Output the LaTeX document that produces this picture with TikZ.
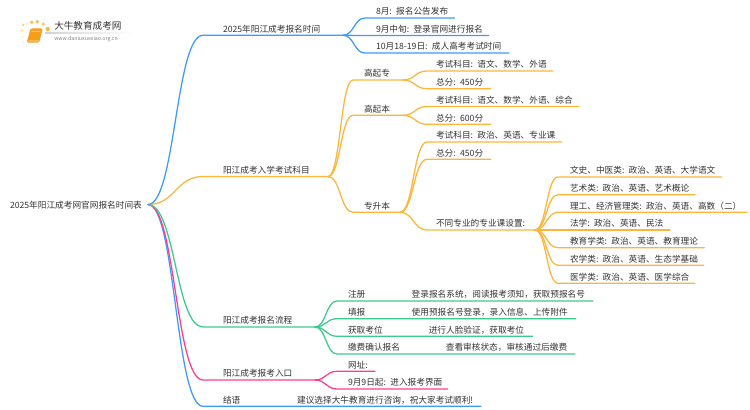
\documentclass[tikz,border=0pt]{standalone}
\usepackage{fontspec}
\usetikzlibrary{calc}
\setmainfont[WordSpace=0.6]{Noto Sans CJK SC}
\definecolor{cblue}{HTML}{3D9BFF}
\definecolor{corange}{HTML}{FDB53A}
\definecolor{cbook}{HTML}{F59E1E}
\definecolor{cgreen}{HTML}{3CCB8C}
\definecolor{cpink}{HTML}{FF3D8F}
\definecolor{ink}{HTML}{333333}
\newcommand{\topic}[7][]{% name, x0, xend, y, text offset, text
  \pgfmathsetmacro{\wid}{(#4-#3)*0.75}%
  \node[topicbox,text width=\wid pt,#1] (#2) at (#3,#5) {\hspace*{\dimexpr #6pt*3/4\relax}#7};}
\newcommand{\link}[3]{% colour, from, to
  \coordinate (m) at ($(#2.south east)!.5!(#3.south west)$);
  \draw[conn,#1] (#2.south east) .. controls (m |- #2.south east) and (m |- #3.south west) .. (#3.south west) -- (#3.south east);}
\tikzset{
  x=0.75pt,y=-0.75pt,
  topicbox/.style={anchor=south west,inner sep=0pt,outer sep=0pt,align=left,text height=6.2pt,text depth=2.4pt,font=\fontsize{6.5pt}{7pt}\selectfont,text=ink},
  conn/.style={line width=0.95pt,line cap=round,line join=round},
  rootbox/.style={anchor=west,inner sep=0pt,outer sep=0pt,align=left,font=\fontsize{6.5pt}{7pt}\selectfont,text=ink}
}
\begin{document}
\begin{tikzpicture}
\useasboundingbox (0,0) rectangle (750,410);
% logo
\foreach \px/\py/\r/\op in {22.3/30.7/1/.6,23.3/25/1.2/.7,26.7/24/.8/.5,31.7/22.3/1.9/.9,37.3/21.7/1.9/.9,43.3/24/1.6/.9,47.7/29/2.2/.95,22.7/36.7/.8/.45,23.3/42.3/.7/.35}
  \fill[corange,opacity=\op] (\px,\py) circle[radius=\r];
\fill[cbook,rounded corners=1pt] (26.7,42.7) -- (30.5,28.5) -- (42.7,28.5) -- (39.2,42.7) -- cycle;
\fill[white,opacity=.6] (31.5,30.8) -- (40.5,30.8) -- (40.3,31.6) -- (31.3,31.6) -- cycle;
\fill[white,opacity=.75] (28.5,40.6) -- (39.3,40.6) -- (39.1,41.3) -- (28.3,41.3) -- cycle;
\shade[left color=gray!35,right color=white] (45,33) rectangle (133,33.6);
\node[anchor=base west,inner sep=0pt,text=ink,font=\fontsize{7.2pt}{8pt}\selectfont] (logoa) at (54,30) {大牛教育成考网};
\node[anchor=base west,inner sep=0pt,text=gray,font=\fontsize{3.95pt}{5pt}\selectfont] (logob) at (54,40.5) {www.daniuxuexiao.org.cn};
% root
\node[rootbox,text width=103.5pt] (root) at (10,205) {2025年阳江成考网官网报名时间表};
\coordinate (rootout) at (148,204.5);
% level 1
\topic{a}{203}{343}{35.3}{20}{2025年阳江成考报名时间}
\topic{b}{203}{328}{176.5}{20}{阳江成考入学考试科目}
\topic{c}{203}{315}{327}{20}{阳江成考报名流程}
\topic{d}{203}{315}{380}{20}{阳江成考报考入口}
\topic{e}{203}{481}{406.3}{20}{结语\hspace*{42.6pt}建议选择大牛教育进行咨询，祝大家考试顺利!}
% a children
\topic{a1}{365}{454.5}{18}{11}{8月: 报名公告发布}
\topic{a2}{365}{488.7}{35.5}{11}{9月中旬: 登录官网进行报名}
\topic{a3}{365}{509}{53}{11}{10月18-19日: 成人高考考试时间}
% b children
\topic{b1}{353}{403}{80}{11}{高起专}
\topic{b2}{353}{403}{115.3}{11}{高起本}
\topic{b3}{353}{400}{212.3}{11}{专升本}
\topic{b11}{427}{553}{71}{9}{考试科目: 语文、数学、外语}
\topic{b12}{427}{490.7}{88.7}{9}{总分: 450分}
\topic{b21}{427}{578.7}{106.5}{9}{考试科目: 语文、数学、外语、综合}
\topic{b22}{427}{490.7}{124.3}{9}{总分: 600分}
\topic{b31}{427}{561.7}{142}{9}{考试科目: 政治、英语、专业课}
\topic{b32}{427}{490.7}{159.3}{9}{总分: 450分}
\topic{b33}{427}{535}{230}{9}{不同专业的专业课设置:}
\topic{s1}{558}{721.7}{177}{12}{文史、中医类: 政治、英语、大学语文}
\topic{s2}{558}{695}{194.7}{12}{艺术类: 政治、英语、艺术概论}
\topic{s3}{558}{746.7}{212.3}{12}{理工、经济管理类: 政治、英语、高数（二）}
\topic{s4}{558}{669.7}{230}{12}{法学: 政治、英语、民法}
\topic{s5}{558}{704.3}{247.7}{12}{教育学类: 政治、英语、教育理论}
\topic{s6}{558}{703.7}{265.3}{12}{农学类: 政治、英语、生态学基础}
\topic{s7}{558}{695}{283.3}{12}{医学类: 政治、英语、医学综合}
% c children
\topic{c1}{337}{593}{301}{11}{注册\hspace*{34.8pt}登录报名系统，阅读报考须知，获取预报名号}
\topic{c2}{337}{575.7}{318.7}{11}{填报\hspace*{34.8pt}使用预报名号登录，录入信息、上传附件}
\topic{c3}{337}{532.7}{336.3}{11}{获取考位\hspace*{34.6pt}进行人脸验证，获取考位}
\topic{c4}{337}{575}{354}{11}{缴费确认报名\hspace*{34.4pt}查看审核状态，审核通过后缴费}
% d children
\topic{d1}{337}{375}{371.3}{11}{网址:}
\topic{d2}{337}{447.7}{389}{11}{9月9日起: 进入报考界面}
% links
\coordinate (m) at ($(rootout)!.5!(e.south west)$);
\draw[conn,cblue] (rootout) .. controls (m |- rootout) and (m |- e.south west) .. (e.south west) -- (e.south east);
\coordinate (m) at ($(rootout)!.5!(d.south west)$);
\draw[conn,cpink] (rootout) .. controls (m |- rootout) and (m |- d.south west) .. (d.south west) -- (d.south east);
\coordinate (m) at ($(rootout)!.5!(c.south west)$);
\draw[conn,cgreen] (rootout) .. controls (m |- rootout) and (m |- c.south west) .. (c.south west) -- (c.south east);
\coordinate (m) at ($(rootout)!.5!(b.south west)$);
\draw[conn,corange] (rootout) .. controls (m |- rootout) and (m |- b.south west) .. (b.south west) -- (b.south east);
\coordinate (m) at ($(rootout)!.5!(a.south west)$);
\draw[conn,cblue] (rootout) .. controls (m |- rootout) and (m |- a.south west) .. (a.south west) -- (a.south east);
\foreach \t in {a1,a2,a3}{\link{cblue}{a}{\t}}
\foreach \t in {b1,b2,b3}{\link{corange}{b}{\t}}
\foreach \t in {b11,b12}{\link{corange}{b1}{\t}}
\foreach \t in {b21,b22}{\link{corange}{b2}{\t}}
\foreach \t in {b31,b32,b33}{\link{corange}{b3}{\t}}
\foreach \t in {s1,s2,s3,s4,s5,s6,s7}{\link{corange}{b33}{\t}}
\foreach \t in {c1,c2,c3,c4}{\link{cgreen}{c}{\t}}
\foreach \t in {d1,d2}{\link{cpink}{d}{\t}}
\end{tikzpicture}
\end{document}
